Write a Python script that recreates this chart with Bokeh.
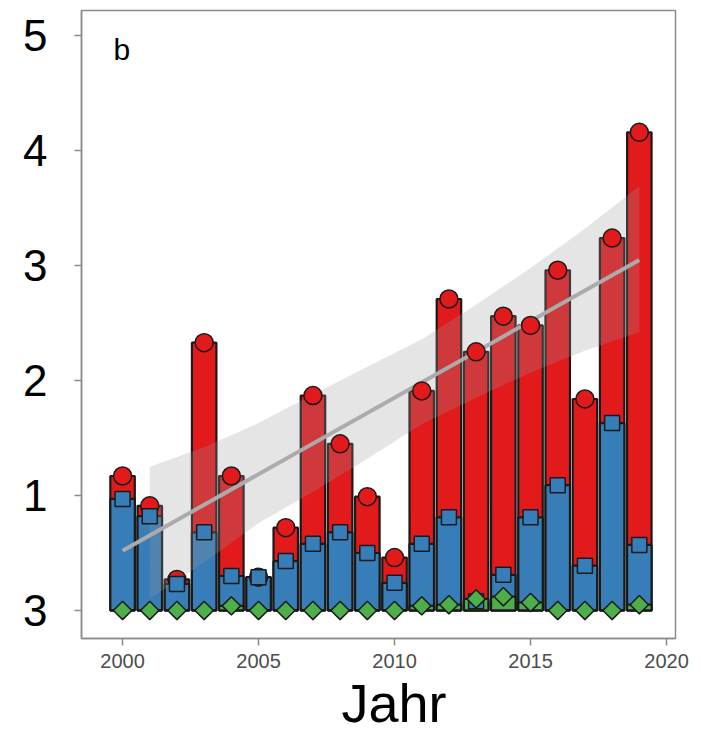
from bokeh.plotting import figure
from bokeh.models import FixedTicker, Label, Range1d, Title
from bokeh.embed import file_html
from bokeh.resources import INLINE

# ---- data ---------------------------------------------------------------
years = list(range(2000, 2020))
total_values = [1.17, 0.91, 0.27, 2.33, 1.17, 0.29, 0.72, 1.87, 1.45, 0.99,
                0.46, 1.91, 2.71, 2.25, 2.56, 2.48, 2.96, 1.84, 3.24, 4.16]
blue_values = [0.97, 0.82, 0.23, 0.68, 0.30, 0.29, 0.43, 0.58, 0.68, 0.50,
               0.24, 0.58, 0.81, 0.08, 0.31, 0.81, 1.09, 0.39, 1.63, 0.57]
green_values = [0.0, 0.0, 0.0, 0.0, 0.04, 0.0, 0.0, 0.0, 0.0, 0.0,
                0.0, 0.04, 0.05, 0.10, 0.12, 0.07, 0.0, 0.0, 0.0, 0.05]

trend_years = [2000, 2019]
trend_values = [0.52, 3.05]

band_years = [2001, 2003, 2005, 2007, 2009, 2011, 2013, 2015, 2017, 2019]
band_upper = [1.25, 1.42, 1.63, 1.88, 2.12, 2.36, 2.66, 2.98, 3.32, 3.69]
band_lower = [0.10, 0.42, 0.76, 1.03, 1.32, 1.62, 1.85, 2.07, 2.26, 2.42]

y_ticks = [0, 1, 2, 3, 4, 5]
y_tick_labels = ["3", "1", "2", "3", "4", "5"]
x_ticks = [2000, 2005, 2010, 2015, 2020]

RED = "#e31a1c"
BLUE = "#377eb8"
GREEN = "#4daf4a"
EDGE = "#1a1a1a"
FONT = "Liberation Sans"

p = figure(width=701, height=740, output_backend="svg", toolbar_location=None,
           x_range=Range1d(1998.49, 2020.33), y_range=Range1d(-0.244, 5.22),
           min_border_left=81, min_border_right=26, min_border_top=10,
           min_border_bottom=102)

p.grid.visible = False
p.outline_line_color = "#8c8c8c"
p.outline_line_width = 1.5
p.background_fill_color = "white"
p.border_fill_color = "white"

# bars: total, blue part, green part, each drawn from zero
bar_w = 0.9
p.vbar(x=years, top=total_values, bottom=0, width=bar_w,
       fill_color=RED, line_color=EDGE, line_width=2.2)
p.vbar(x=years, top=blue_values, bottom=0, width=bar_w,
       fill_color=BLUE, line_color=EDGE, line_width=2.2)
p.vbar(x=years, top=green_values, bottom=0, width=bar_w,
       fill_color=GREEN, line_color=EDGE, line_width=2.2)

# confidence band and trend line
p.varea(x=band_years, y1=band_lower, y2=band_upper,
        fill_color="#999999", fill_alpha=0.25)
p.line(x=trend_years, y=trend_values, line_color="#ababab", line_width=4)

# value markers
p.scatter(x=years, y=total_values, marker="circle", size=18,
          fill_color=RED, line_color=EDGE, line_width=1.5)
p.scatter(x=years, y=blue_values, marker="square", size=15,
          fill_color=BLUE, line_color=EDGE, line_width=1.5)
p.scatter(x=years, y=green_values, marker="square", size=13, angle=0.785398,
          fill_color=GREEN, line_color=EDGE, line_width=1.5)

# axes
p.yaxis.ticker = FixedTicker(ticks=y_ticks)
p.yaxis.major_label_overrides = {t: lab for t, lab in zip(y_ticks, y_tick_labels)}
p.yaxis.major_label_text_font = FONT
p.yaxis.major_label_text_font_size = "44px"
p.yaxis.major_label_text_color = "black"
p.yaxis.major_label_standoff = 27
p.yaxis.minor_tick_line_color = None

p.xaxis.ticker = FixedTicker(ticks=x_ticks)
p.xaxis.major_label_text_font = FONT
p.xaxis.major_label_text_font_size = "20px"
p.xaxis.major_label_text_color = "#4d4d4d"
p.xaxis.major_label_standoff = 8
p.xaxis.minor_tick_line_color = None

for ax in (p.xaxis, p.yaxis):
    ax.axis_line_color = "#8c8c8c"
    ax.axis_line_width = 1.5
    ax.major_tick_line_color = "#8c8c8c"
    ax.major_tick_line_width = 1.5
    ax.major_tick_out = 7
    ax.major_tick_in = 0

# panel tag
p.add_layout(Label(x=1999.67, y=4.88, text="b", text_font=FONT,
                   text_font_size="30px", text_color="black",
                   text_baseline="alphabetic", text_align="left"))

# x-axis title
p.add_layout(Title(text="Jahr", align="left", offset=260, standoff=0,
                   text_font=FONT, text_font_size="54px",
                   text_font_style="normal", text_color="black"), "below")

open("out.html", "w").write(file_html(p, INLINE))
